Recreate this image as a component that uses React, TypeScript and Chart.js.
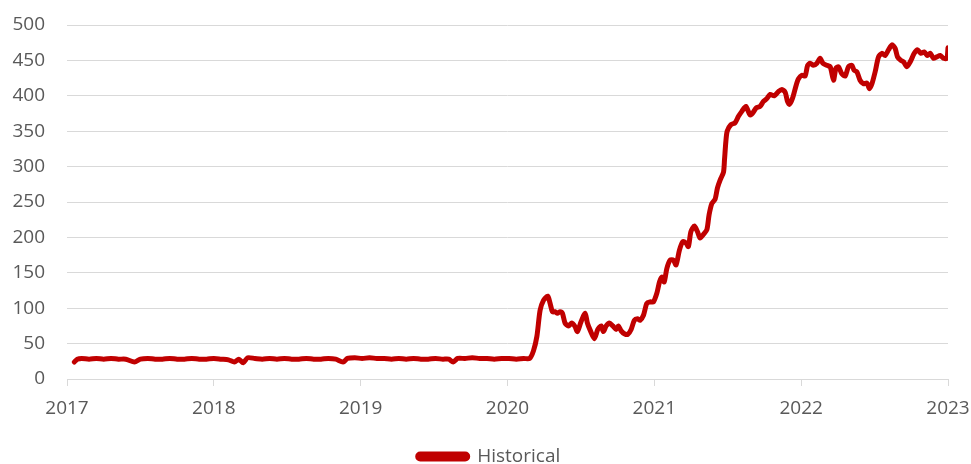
import React, { useEffect, useRef } from "react";
import { Chart, registerables } from "chart.js";

Chart.register(...registerables);

// Observation dates as decimal years
const dates: number[] = [
  2017.05, 2017.07, 2017.10, 2017.15, 2017.20, 2017.25, 2017.30, 2017.35, 2017.40, 2017.46,
  2017.50, 2017.55, 2017.60, 2017.65, 2017.70, 2017.75, 2017.80, 2017.85, 2017.90, 2017.95,
  2018.00, 2018.05, 2018.10, 2018.14, 2018.17, 2018.20, 2018.23, 2018.28, 2018.33, 2018.38,
  2018.43, 2018.48, 2018.53, 2018.58, 2018.63, 2018.68, 2018.73, 2018.78, 2018.83, 2018.88,
  2018.91, 2018.96, 2019.01, 2019.06, 2019.11, 2019.16, 2019.21, 2019.26, 2019.31, 2019.36,
  2019.41, 2019.46, 2019.51, 2019.56, 2019.60, 2019.63, 2019.66, 2019.71, 2019.76, 2019.81,
  2019.86, 2019.91, 2019.96, 2020.01, 2020.06, 2020.11, 2020.15,
  2020.177, 2020.200, 2020.222, 2020.245, 2020.274, 2020.290, 2020.306, 2020.324, 2020.340, 2020.358,
  2020.374, 2020.392, 2020.415, 2020.438, 2020.460, 2020.476, 2020.501, 2020.529, 2020.544, 2020.563,
  2020.592, 2020.615, 2020.638, 2020.653, 2020.672, 2020.694, 2020.717, 2020.740, 2020.755, 2020.774,
  2020.796, 2020.819, 2020.842, 2020.864, 2020.885, 2020.903, 2020.926, 2020.949, 2020.971, 2020.994,
  2021.017, 2021.035, 2021.051, 2021.067, 2021.085, 2021.108, 2021.130, 2021.148, 2021.171, 2021.194,
  2021.216, 2021.232, 2021.249, 2021.273, 2021.294, 2021.312, 2021.334, 2021.358, 2021.373, 2021.392,
  2021.414, 2021.430, 2021.448, 2021.471, 2021.478, 2021.487, 2021.496, 2021.521, 2021.550, 2021.573,
  2021.596, 2021.623, 2021.652, 2021.671, 2021.694, 2021.720, 2021.743, 2021.766, 2021.789, 2021.816,
  2021.845, 2021.868, 2021.891, 2021.907, 2021.920, 2021.942, 2021.966, 2021.982, 2022.005, 2022.027,
  2022.044, 2022.061, 2022.084, 2022.107, 2022.129, 2022.148, 2022.175, 2022.198, 2022.220, 2022.237,
  2022.254, 2022.277, 2022.300, 2022.322, 2022.345, 2022.361, 2022.379, 2022.401, 2022.424, 2022.448,
  2022.465, 2022.482, 2022.504, 2022.527, 2022.550, 2022.572, 2022.595, 2022.618, 2022.640, 2022.656,
  2022.679, 2022.697, 2022.720, 2022.743, 2022.770, 2022.792, 2022.815, 2022.838, 2022.860, 2022.879,
  2022.901, 2022.924, 2022.947, 2022.969, 2022.992, 2023.000,
];

// Historical values
const values: number[] = [
  24, 28, 29, 28, 29, 28, 29, 28, 28, 24,
  28, 29, 28, 28, 29, 28, 28, 29, 28, 28,
  29, 28, 27, 24, 28, 23, 30, 29, 28, 29,
  28, 29, 28, 28, 29, 28, 28, 29, 28, 24,
  29, 30, 29, 30, 29, 29, 28, 29, 28, 29,
  28, 28, 29, 28, 28, 24, 29, 29, 30, 29,
  29, 28, 29, 29, 28, 29, 29,
  40, 60, 97, 111, 117, 107, 95, 95, 93, 95,
  93, 79, 75, 79, 74, 67, 81, 93, 79, 69,
  57, 70, 75, 67, 75, 79, 75, 70, 75, 68,
  64, 63, 70, 83, 85, 83, 90, 107, 109, 109,
  121, 137, 144, 137, 156, 168, 168, 161, 182, 194,
  192, 187, 208, 216, 208, 199, 204, 211, 232, 248,
  254, 270, 281, 292, 310, 335, 350, 359, 362, 371,
  378, 385, 373, 376, 383, 385, 392, 396, 402, 400,
  406, 409, 405, 392, 388, 397, 415, 424, 429, 428,
  443, 446, 443, 446, 453, 446, 443, 441, 422, 439,
  441, 431, 428, 441, 443, 436, 434, 422, 417, 418,
  410, 417, 434, 455, 460, 457, 465, 472, 467, 455,
  450, 448, 441, 448, 460, 465, 460, 462, 457, 460,
  453, 455, 457, 453, 453, 468,
];

const yearMin = 2017;
const yearMax = 2023;
const seriesName = "Historical";
const lineColor = "#c00000";
const gridColor = "#d9d9d9";
const textColor = "#595959";
const fontFamily = "'Open Sans', 'Noto Sans', sans-serif";

// Nudges the centred legend a little to the right
const legendShift = {
  id: "legendShift",
  afterLayout(chart: any) {
    const lg = chart.legend;
    if (lg) {
      lg.left += 15;
      lg.right += 15;
    }
  },
};

export default function App() {
  const canvasRef = useRef<HTMLCanvasElement | null>(null);

  useEffect(() => {
    const canvas = canvasRef.current;
    if (!canvas) return;

    const points = dates.map((d, i) => ({ x: d, y: values[i] }));

    const chart = new Chart(canvas, {
      type: "line",
      data: {
        datasets: [
          {
            label: seriesName,
            data: points,
            borderColor: lineColor,
            backgroundColor: lineColor,
            borderWidth: 5,
            pointRadius: 0,
            tension: 0.25,
            borderJoinStyle: "round",
            borderCapStyle: "round",
          },
        ],
      },
      plugins: [legendShift],
      options: {
        responsive: false,
        animation: false,
        layout: { padding: { top: 25, right: 23, left: 0, bottom: -12 } },
        plugins: {
          tooltip: { enabled: false },
          legend: {
            position: "bottom",
            labels: {
              boxWidth: 50,
              boxHeight: 5,
              useBorderRadius: true,
              borderRadius: 2.5,
              color: textColor,
              font: { family: fontFamily, size: 19 },
              padding: 10,
            },
          },
        },
        scales: {
          x: {
            type: "linear",
            min: yearMin,
            max: yearMax,
            afterFit: (scale: any) => {
              scale.height = 58;
              scale.paddingLeft = 0;
              scale.paddingRight = 0;
            },
            ticks: {
              stepSize: 1,
              padding: 11,
              color: textColor,
              font: { family: fontFamily, size: 19 },
              maxRotation: 0,
              callback: (v: any) => String(v),
            },
            grid: {
              drawOnChartArea: false,
              drawTicks: true,
              tickLength: 7,
              color: gridColor,
            },
            border: { display: true, color: gridColor, width: 1 },
          },
          y: {
            min: 0,
            max: 500,
            afterFit: (scale: any) => {
              scale.width = 67;
              scale.paddingTop = 0;
              scale.paddingBottom = 0;
            },
            ticks: {
              stepSize: 50,
              padding: 22,
              color: textColor,
              font: { family: fontFamily, size: 19 },
            },
            grid: { color: gridColor, drawTicks: false, lineWidth: 1 },
            border: { display: false },
          },
        },
      },
    });

    return () => chart.destroy();
  }, []);

  return (
    <div style={{ position: "fixed", left: 0, top: 0, width: 971, height: 464, background: "#fff" }}>
      <canvas ref={canvasRef} width={971} height={464} />
    </div>
  );
}
